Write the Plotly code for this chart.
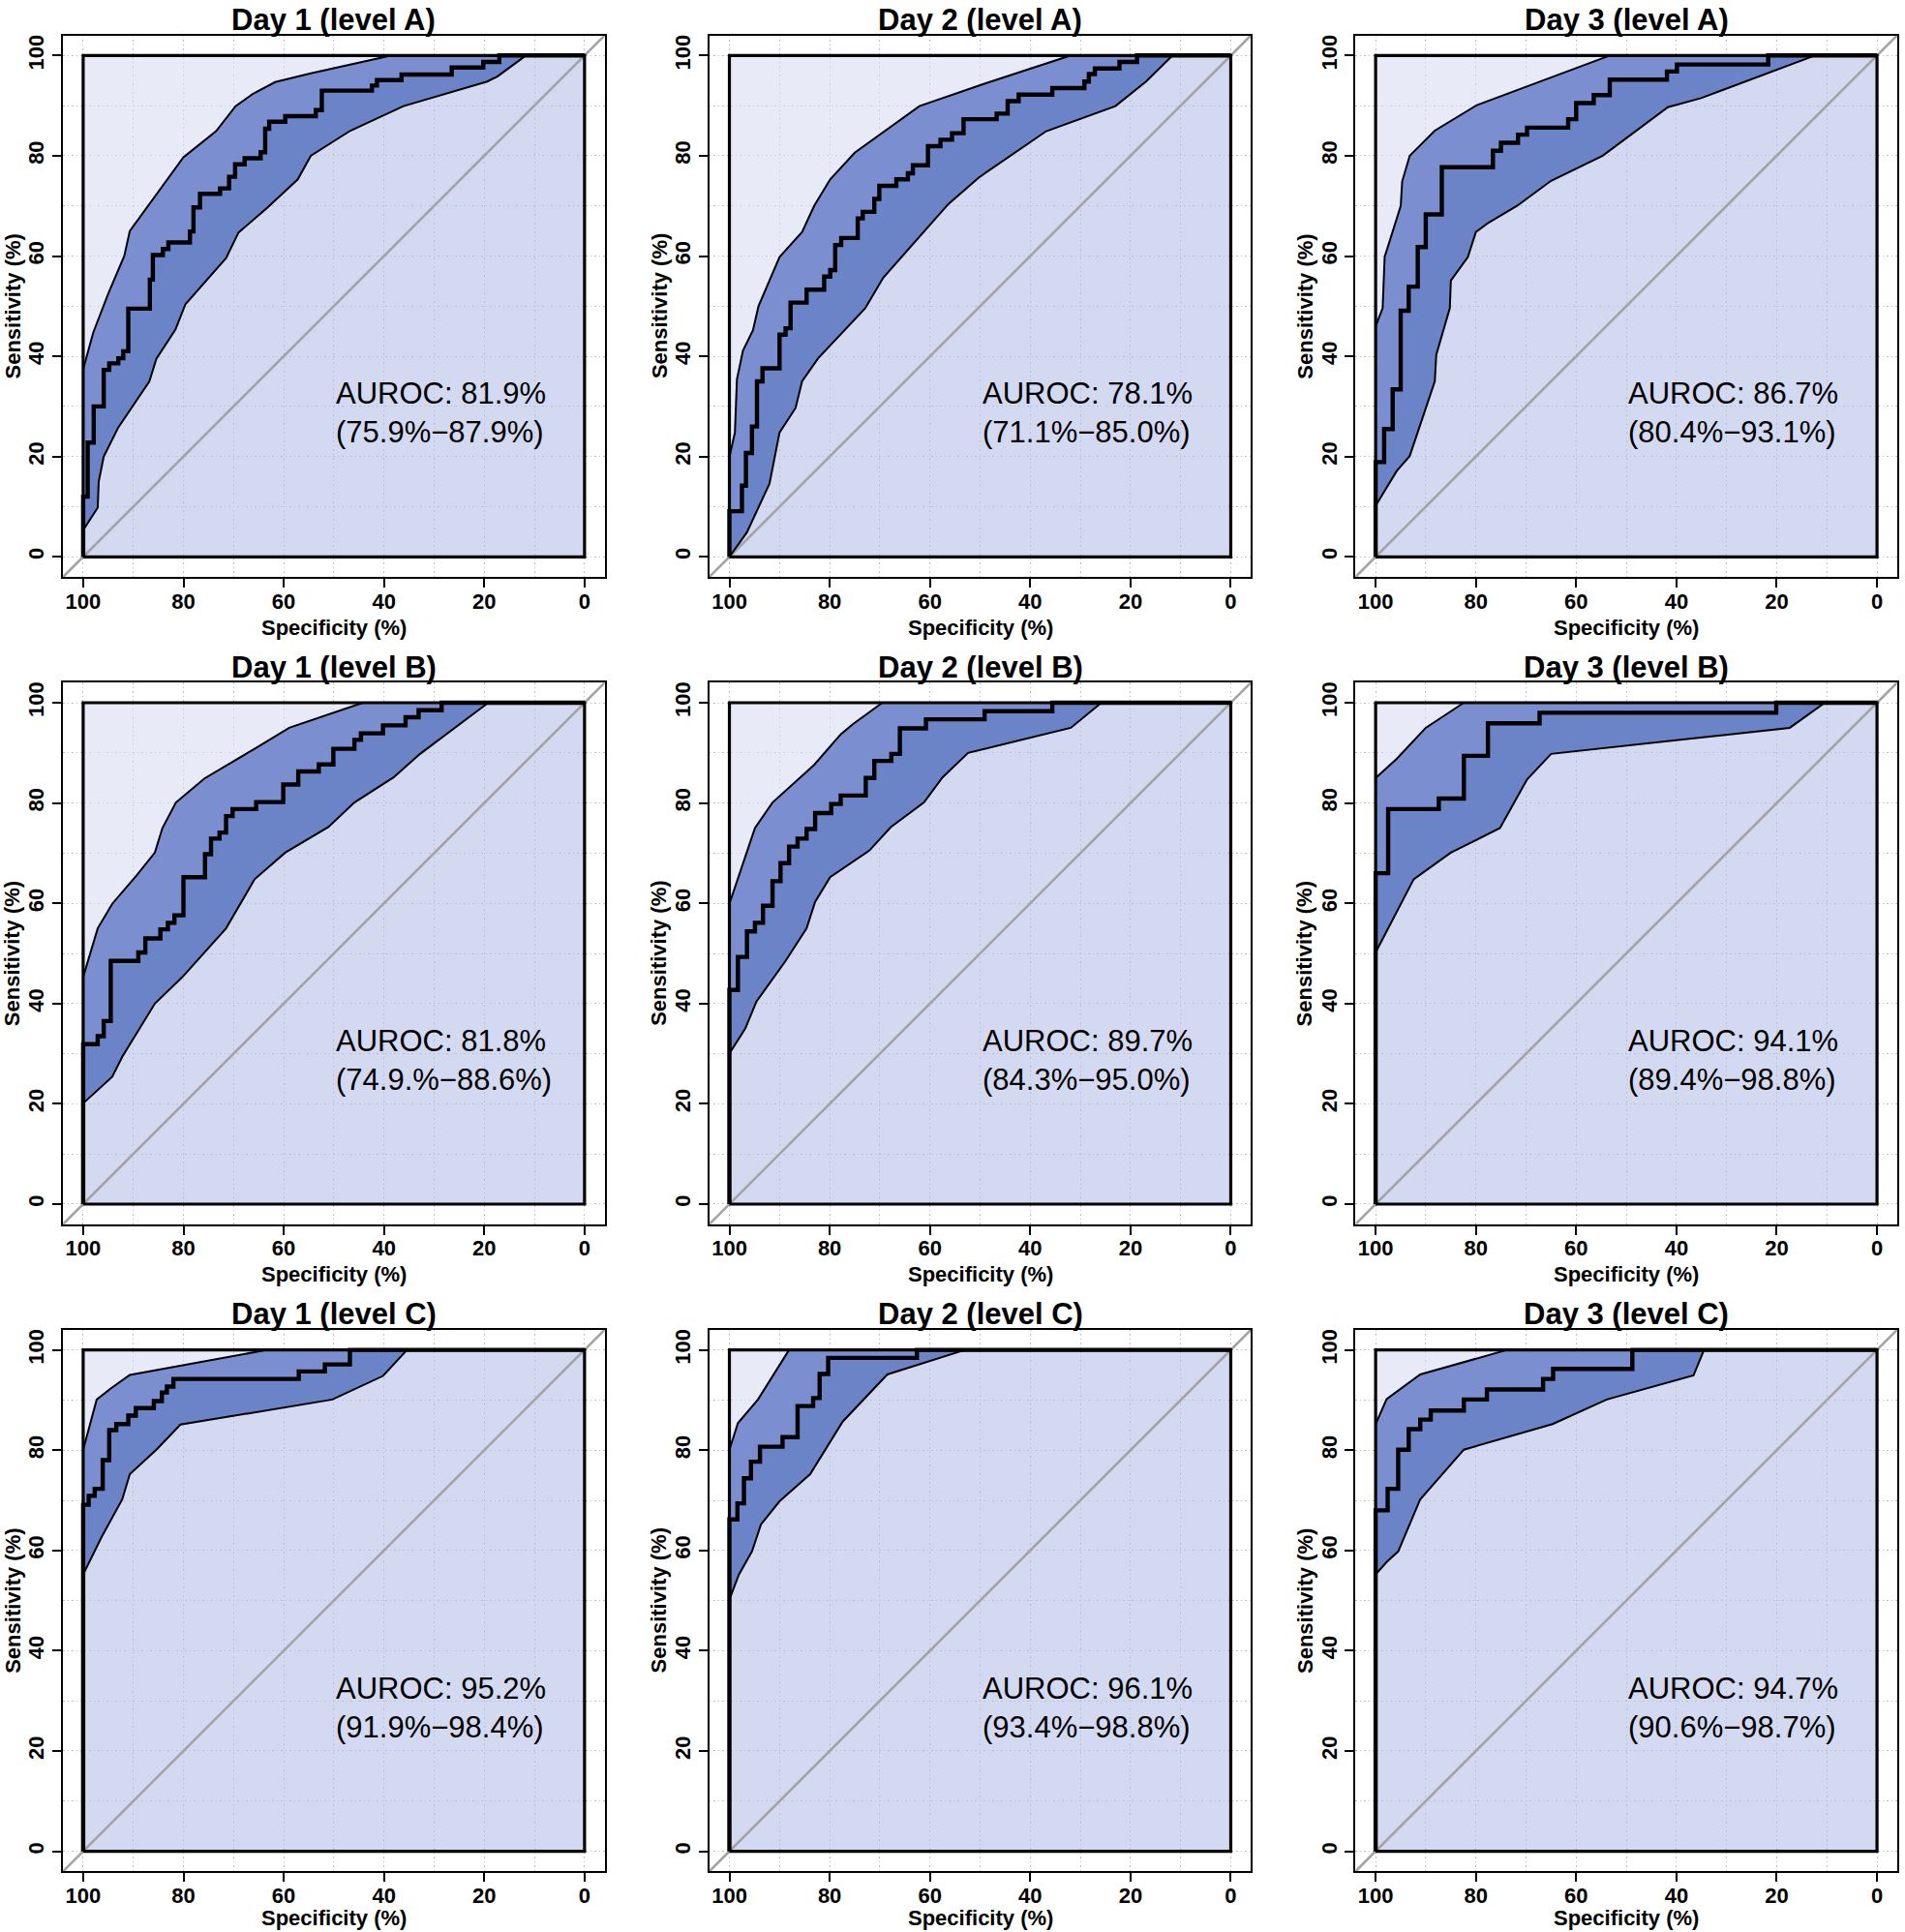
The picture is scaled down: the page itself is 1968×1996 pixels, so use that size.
import plotly.graph_objects as go

# ---------------- data (specificity %, sensitivity %) ----------------
titles = ["Day 1 (level A)", "Day 2 (level A)", "Day 3 (level A)",
          "Day 1 (level B)", "Day 2 (level B)", "Day 3 (level B)",
          "Day 1 (level C)", "Day 2 (level C)", "Day 3 (level C)"]
auroc_text = ["AUROC: 81.9%", "AUROC: 78.1%", "AUROC: 86.7%",
              "AUROC: 81.8%", "AUROC: 89.7%", "AUROC: 94.1%",
              "AUROC: 95.2%", "AUROC: 96.1%", "AUROC: 94.7%"]
ci_text = ["(75.9%\u221287.9%)", "(71.1%\u221285.0%)", "(80.4%\u221293.1%)",
           "(74.9.%\u221288.6%)", "(84.3%\u221295.0%)", "(89.4%\u221298.8%)",
           "(91.9%\u221298.4%)", "(93.4%\u221298.8%)", "(90.6%\u221298.7%)"]
tick_vals = [0, 20, 40, 60, 80, 100]

# Day 1 level A
d1a_roc_spec = [100, 99.1, 97.9, 95.9, 94.8, 93.0, 92.0, 91.0, 86.7, 86.1, 84.1, 83.0, 78.7, 78.0, 76.7, 72.7, 70.9, 69.7, 67.8, 64.6, 63.7, 62.9, 59.7, 53.6, 52.4, 42.4, 41.4, 36.5, 26.5, 20.2, 17.0, 0]
d1a_roc_sens = [0, 12.0, 22.8, 30.0, 37.3, 38.6, 39.6, 41.0, 49.5, 55.3, 60.2, 61.4, 62.7, 64.9, 69.7, 72.4, 73.5, 75.8, 78.3, 79.5, 80.7, 85.4, 86.8, 87.9, 89.1, 93.0, 94.0, 95.1, 96.2, 97.6, 98.7, 100]
d1a_up_spec = [100, 98.0, 95.0, 91.8, 90.7, 80.0, 73.5, 69.6, 66.2, 61.7, 54.8, 38.5]
d1a_up_sens = [37.4, 44.7, 52.5, 60.0, 65.0, 79.7, 84.9, 89.9, 92.3, 94.7, 96.4, 100]
d1a_lo_spec = [100, 97.1, 96.9, 95.9, 93.0, 89.8, 86.8, 85.4, 81.6, 79.6, 71.5, 69.0, 63.3, 57.2, 54.6, 46.7, 36.1, 19.4, 17.4, 11.7]
d1a_lo_sens = [5.3, 9.8, 15.0, 20.0, 25.8, 30.5, 35.0, 39.5, 45.3, 50.4, 59.6, 64.7, 69.6, 75.3, 80.0, 85.0, 89.9, 94.8, 95.8, 100]

# Day 2 level A
d2a_roc_spec = [100, 97.5, 96.7, 95.5, 94.5, 93.4, 90.0, 88.8, 87.8, 84.6, 81.1, 79.9, 78.9, 77.7, 74.4, 73.4, 71.1, 70.1, 66.7, 64.4, 63.4, 60.4, 57.9, 55.6, 53.3, 46.7, 44.5, 42.3, 35.6, 29.2, 28.3, 27.1, 22.2, 18.7, 0]
d2a_roc_sens = [0, 9.1, 14.2, 20.7, 26.0, 35.0, 37.6, 44.3, 45.6, 50.7, 53.3, 55.9, 57.2, 62.2, 63.6, 67.5, 68.8, 71.4, 74.0, 75.3, 76.5, 78.1, 81.9, 83.2, 84.5, 87.3, 88.4, 90.9, 92.2, 93.5, 94.8, 96.3, 97.4, 98.7, 100]
d2a_up_spec = [100, 98.9, 98.5, 97.3, 95.3, 94.2, 90.0, 85.5, 83.1, 79.9, 75.0, 62.1, 49.0, 31.9]
d2a_up_sens = [19.9, 24.8, 35.4, 41.1, 45.2, 50.0, 59.8, 64.8, 70.0, 75.3, 80.6, 89.9, 94.4, 100]
d2a_lo_spec = [100, 96.5, 92.0, 90.0, 86.8, 85.5, 82.3, 72.9, 69.3, 56.3, 50.2, 36.8, 23.0, 16.9, 11.6]
d2a_lo_sens = [0, 4.9, 14.6, 24.8, 29.7, 35.0, 39.6, 49.6, 55.7, 70.4, 75.7, 84.9, 89.9, 94.8, 100]

# Day 3 level A
d3a_roc_spec = [100, 98.3, 96.6, 95.0, 93.4, 91.6, 90.0, 86.8, 76.6, 75.0, 71.6, 69.8, 61.6, 60.0, 56.5, 53.3, 41.9, 39.9, 21.7, 0]
d3a_roc_sens = [0, 18.9, 25.5, 33.4, 49.1, 53.9, 61.8, 68.3, 77.7, 81.0, 82.6, 84.2, 85.6, 87.3, 90.5, 92.1, 95.2, 96.8, 98.2, 100]
d3a_up_spec = [100, 98.6, 98.2, 95.0, 94.7, 93.2, 88.2, 79.8, 53.3]
d3a_up_sens = [46.0, 49.6, 59.8, 70.0, 74.9, 80.0, 85.0, 90.1, 100]
d3a_lo_spec = [100, 95.8, 93.2, 88.2, 87.9, 85.2, 85.0, 81.6, 80.0, 77.4, 71.8, 65.0, 54.7, 41.7, 35.1, 12.4]
d3a_lo_sens = [10.2, 17.1, 20.1, 35.0, 40.3, 49.6, 55.1, 59.8, 64.8, 66.7, 70.0, 75.0, 80.0, 89.7, 91.5, 100]

# Day 1 level B
d1b_roc_spec = [100, 97.1, 95.9, 94.5, 89.0, 87.6, 84.6, 83.1, 81.8, 80.0, 75.7, 74.5, 72.8, 71.5, 70.2, 65.5, 60.1, 57.1, 53.0, 50.1, 45.9, 44.6, 40.2, 35.7, 33.1, 28.5, 0]
d1b_roc_sens = [0, 31.9, 33.5, 36.5, 48.5, 50.2, 53.0, 54.8, 56.1, 57.6, 65.2, 69.8, 72.9, 74.1, 77.4, 78.8, 80.2, 83.7, 86.3, 87.7, 90.8, 92.6, 93.9, 95.5, 97.1, 98.5, 100]
d1b_up_spec = [100, 97.1, 94.2, 89.3, 85.7, 84.2, 81.5, 75.8, 65.5, 58.9, 44.2]
d1b_up_sens = [45.3, 55.0, 59.9, 65.6, 70.1, 75.0, 80.1, 84.9, 91.0, 95.0, 100]
d1b_lo_spec = [100, 94.2, 92.2, 85.7, 80.2, 71.5, 65.8, 59.7, 51.1, 45.9, 38.1, 32.8, 19.2]
d1b_lo_sens = [20.1, 25.4, 29.4, 40.0, 45.3, 55.0, 64.8, 70.1, 75.2, 80.1, 85.1, 89.8, 100]

# Day 2 level B
d2b_roc_spec = [100, 98.3, 96.5, 94.9, 93.3, 91.4, 89.8, 88.1, 86.4, 84.6, 82.9, 79.7, 77.8, 72.8, 71.1, 67.7, 66.0, 60.8, 49.1, 35.6, 0]
d2b_roc_sens = [0, 42.7, 49.3, 54.4, 56.1, 59.5, 64.4, 68.0, 71.3, 72.9, 74.8, 78.0, 79.8, 81.5, 85.0, 88.4, 89.8, 94.9, 96.7, 98.3, 100]
d2b_up_spec = [100, 98.1, 94.9, 91.4, 83.1, 77.8, 75.4, 69.5]
d2b_up_sens = [59.9, 65.6, 75.0, 80.1, 87.6, 93.7, 95.7, 100]
d2b_lo_spec = [100, 96.8, 94.6, 88.8, 84.6, 82.9, 79.9, 72.1, 67.8, 61.2, 57.5, 52.4, 31.9, 25.8]
d2b_lo_sens = [30.0, 35.1, 40.4, 48.5, 55.0, 60.3, 65.2, 70.5, 75.2, 80.1, 85.1, 90.0, 95.0, 100]

# Day 3 level B
d3b_roc_spec = [100, 97.5, 87.4, 82.4, 77.6, 67.3, 20.1, 0]
d3b_roc_sens = [0, 66.0, 78.8, 80.9, 89.4, 95.9, 98.0, 100]
d3b_up_spec = [100, 95.8, 90.0, 82.4]
d3b_up_sens = [85.0, 88.8, 95.0, 100]
d3b_lo_spec = [100, 92.4, 85.0, 75.2, 69.8, 65.0, 17.4, 10.4]
d3b_lo_sens = [50.2, 64.8, 70.1, 75.0, 84.7, 89.8, 95.0, 100]

# Day 1 level C
d1c_roc_spec = [100, 98.9, 97.7, 96.1, 94.8, 93.4, 91.0, 89.5, 85.9, 84.3, 83.3, 82.0, 57.0, 51.8, 46.8, 0]
d1c_roc_sens = [0, 69.1, 70.9, 72.3, 78.0, 84.0, 85.2, 86.9, 88.4, 89.8, 91.5, 92.7, 94.2, 95.7, 97.1, 100]
d1c_up_spec = [100, 97.3, 94.5, 90.7, 63.3]
d1c_up_sens = [80.1, 90.1, 92.3, 95.0, 100]
d1c_lo_spec = [100, 96.3, 92.2, 90.7, 85.3, 80.6, 50.3, 40.2, 35.4]
d1c_lo_sens = [55.2, 62.7, 70.2, 75.2, 80.2, 85.1, 90.1, 94.8, 100]

# Day 2 level C
d2c_roc_spec = [100, 98.4, 97.1, 95.7, 93.9, 89.4, 86.4, 83.3, 82.0, 80.3, 62.6, 0]
d2c_roc_sens = [0, 66.2, 69.4, 74.4, 77.7, 80.7, 82.6, 88.8, 90.4, 95.2, 98.4, 100]
d2c_up_spec = [100, 98.3, 94.3, 88.1]
d2c_up_sens = [80.1, 85.4, 90.1, 100]
d2c_lo_spec = [100, 98.1, 95.5, 93.7, 90.0, 83.9, 77.4, 68.5, 53.0]
d2c_lo_sens = [50.2, 55.2, 59.8, 65.2, 69.8, 75.2, 85.7, 95.1, 100]

# Day 3 level C
d3c_roc_spec = [100, 97.6, 95.5, 93.4, 91.1, 89.0, 82.4, 77.8, 66.6, 64.6, 48.8, 0]
d3c_roc_sens = [0, 68.0, 72.3, 80.1, 84.2, 86.1, 87.9, 90.1, 92.1, 94.2, 96.2, 100]
d3c_up_spec = [100, 97.8, 91.1, 73.8]
d3c_up_sens = [85.2, 90.2, 95.1, 100]
d3c_lo_spec = [100, 97.8, 95.5, 91.1, 82.4, 64.7, 53.9, 36.6, 34.5]
d3c_lo_sens = [55.2, 57.7, 59.8, 70.2, 80.1, 85.2, 90.1, 94.9, 100]

panels = [
    (d1a_roc_spec, d1a_roc_sens, d1a_up_spec, d1a_up_sens, d1a_lo_spec, d1a_lo_sens),
    (d2a_roc_spec, d2a_roc_sens, d2a_up_spec, d2a_up_sens, d2a_lo_spec, d2a_lo_sens),
    (d3a_roc_spec, d3a_roc_sens, d3a_up_spec, d3a_up_sens, d3a_lo_spec, d3a_lo_sens),
    (d1b_roc_spec, d1b_roc_sens, d1b_up_spec, d1b_up_sens, d1b_lo_spec, d1b_lo_sens),
    (d2b_roc_spec, d2b_roc_sens, d2b_up_spec, d2b_up_sens, d2b_lo_spec, d2b_lo_sens),
    (d3b_roc_spec, d3b_roc_sens, d3b_up_spec, d3b_up_sens, d3b_lo_spec, d3b_lo_sens),
    (d1c_roc_spec, d1c_roc_sens, d1c_up_spec, d1c_up_sens, d1c_lo_spec, d1c_lo_sens),
    (d2c_roc_spec, d2c_roc_sens, d2c_up_spec, d2c_up_sens, d2c_lo_spec, d2c_lo_sens),
    (d3c_roc_spec, d3c_roc_sens, d3c_up_spec, d3c_up_sens, d3c_lo_spec, d3c_lo_sens),
]

# ---------------- styling ----------------
W, H = 1968, 1996
LEFTS = [65.2, 732.8, 1400.4]
TOPS = [36.6, 705.3, 1373.9]
SIZE = 559.4
FONT = "Liberation Sans"

COL_ABOVE = "rgba(217,220,243,0.6)"   # above upper CI
COL_BELOW = "rgba(183,192,233,0.6)"   # below lower CI
COL_BAND_UP = "#7b8fd0"
COL_BAND_LO = "#6b83c7"
GRID_COL = "#bdbdbd"


def step_corners(spec, sens):
    xs, ys = [spec[0]], [sens[0]]
    for i in range(1, len(spec)):
        xs += [spec[i - 1], spec[i]]
        ys += [sens[i], sens[i]]
    return xs, ys


fig = go.Figure()
annotations = []

for k, (rs, rn, us, un, ls, ln) in enumerate(panels):
    r, c = divmod(k, 3)
    left, top = LEFTS[c], TOPS[r]
    xa = "x" if k == 0 else f"x{k+1}"
    ya = "y" if k == 0 else f"y{k+1}"
    rx, ry = step_corners(rs, rn)

    def poly(x, y, col):
        fig.add_trace(go.Scatter(x=x, y=y, mode="lines", fill="toself", fillcolor=col,
                                 line=dict(width=0), hoverinfo="skip",
                                 xaxis=xa, yaxis=ya, showlegend=False))

    poly(us + [100], un + [100], COL_ABOVE)
    poly(ls + [0, 0, 100], ln + [100, 0, 0], COL_BELOW)
    poly(us + rx[::-1], un + ry[::-1], COL_BAND_UP)
    poly(rx + ls[::-1], ry + ln[::-1], COL_BAND_LO)

    def line(x, y, col, w):
        fig.add_trace(go.Scatter(x=x, y=y, mode="lines", line=dict(color=col, width=w),
                                 hoverinfo="skip", xaxis=xa, yaxis=ya, showlegend=False))

    line([104, -4], [-4, 104], "#a3a3a3", 2.6)
    line([100, 0, 0, 100, 100], [0, 0, 100, 100, 0], "black", 3.2)
    line(us, un, "black", 2.0)
    line(ls, ln, "black", 2.0)
    line(rx, ry, "black", 4.4)

    common = dict(
        showline=True, linecolor="black", linewidth=2.2, mirror=True,
        ticks="outside", ticklen=9, tickwidth=2.2, tickcolor="black",
        tickvals=tick_vals, ticktext=[str(v) for v in tick_vals],
        showgrid=True, gridcolor=GRID_COL, gridwidth=1.3, griddash="1.5px,3px",
        zeroline=False, fixedrange=True, autorange=False,
        minor=dict(tickvals=[10, 30, 50, 70, 90], showgrid=True, gridcolor=GRID_COL,
                   gridwidth=1.3, griddash="1.5px,3px", ticks=""),
        tickfont=dict(family=FONT, size=22, color="black", weight="bold"),
    )
    xdom = [left / W, (left + SIZE) / W]
    ydom = [1 - (top + SIZE) / H, 1 - top / H]
    fig.layout[f"xaxis{'' if k == 0 else k+1}"] = dict(common, domain=xdom, range=[104, -4], anchor=ya,
                                                       ticklabelstandoff=-5)
    fig.layout[f"yaxis{'' if k == 0 else k+1}"] = dict(common, domain=ydom, range=[-4, 104], anchor=xa,
                                                       tickangle=-90)

    cx = (left + SIZE / 2) / W
    spec_off = 48 if r == 2 else 52
    annotations.append(dict(text=titles[k], x=cx, y=1 - (top - 16) / H, xref="paper", yref="paper",
                            xanchor="center", yanchor="middle", showarrow=False,
                            font=dict(family=FONT, size=31, color="black", weight="bold")))
    annotations.append(dict(text="Sensitivity (%)", x=(left - 52) / W, y=1 - (top + SIZE / 2) / H,
                            xref="paper", yref="paper", xanchor="center", yanchor="middle",
                            textangle=-90, showarrow=False,
                            font=dict(family=FONT, size=22, color="black", weight="bold")))
    annotations.append(dict(text="Specificity (%)", x=cx, y=1 - (top + SIZE + spec_off) / H,
                            xref="paper", yref="paper", xanchor="center", yanchor="middle",
                            showarrow=False,
                            font=dict(family=FONT, size=22, color="black", weight="bold")))
    annotations.append(dict(text=auroc_text[k], x=50, y=32.5, xref=xa, yref=ya,
                            xanchor="left", yanchor="middle", showarrow=False,
                            font=dict(family=FONT, size=31, color="black")))
    annotations.append(dict(text=ci_text[k], x=50, y=24.8, xref=xa, yref=ya,
                            xanchor="left", yanchor="middle", showarrow=False,
                            font=dict(family=FONT, size=31, color="black")))

fig.update_layout(width=W, height=H, margin=dict(l=0, r=0, t=0, b=0),
                  paper_bgcolor="white", plot_bgcolor="white", showlegend=False,
                  annotations=annotations)

fig.write_html("out.html", config={"displayModeBar": False},
               post_script="document.body.style.margin='0px';document.body.style.overflow='hidden';")
